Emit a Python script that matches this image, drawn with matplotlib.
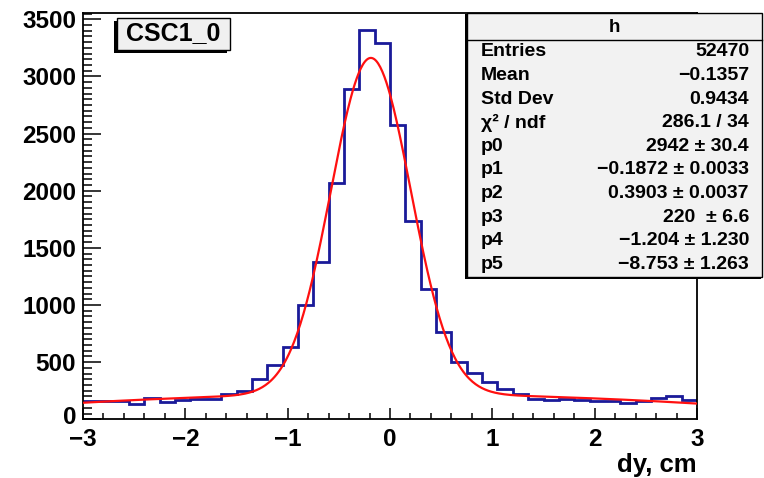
"""
dy residuals for CSC1_0, ROOT-style histogram with fit and stats box.
"""

import numpy as np
import matplotlib
matplotlib.use("Agg")
import matplotlib.pyplot as plt
import matplotlib.transforms as mtransforms
from matplotlib.patches import Rectangle
from matplotlib.ticker import MultipleLocator

plt.rcParams['font.family'] = ['Liberation Sans', 'DejaVu Sans']
plt.rcParams['font.weight'] = 'bold'

# histogram: 40 bins from -3 to 3 cm
xmin, xmax, nbins = -3.0, 3.0, 40
counts = [160, 158, 160, 135, 190, 150, 165, 175, 178, 220,
          245, 352, 478, 633, 1004, 1378, 2064, 2888, 3408, 3291,
          2575, 1737, 1138, 765, 500, 402, 325, 268, 225, 175,
          172, 175, 168, 162, 160, 140, 160, 185, 205, 165]

# fit parameters (gaus + pol2) as printed in the stats box
fit_par = [2942, -0.1872, 0.3903, 220, -1.204, -8.753]

stat_names = ['Entries', 'Mean', 'Std Dev', 'χ² / ndf',
              'p0', 'p1', 'p2', 'p3', 'p4', 'p5']
stat_values = ['52470', '\u22120.1357', '0.9434', '286.1 / 34',
               '2942 ± 30.4', '\u22120.1872 ± 0.0033', '0.3903 ± 0.0037',
               '220  ± 6.6', '\u22121.204 ± 1.230', '\u22128.753 ± 1.263']

x_ticks = [-3, -2, -1, 0, 1, 2, 3]
y_ticks = [0, 500, 1000, 1500, 2000, 2500, 3000, 3500]

W, H = 764, 478


def fx(px):
    return px / W


def fy(py):
    return 1 - py / H


def fitfunc(x, p):
    return (p[0] * np.exp(-0.5 * ((x - p[1]) / p[2]) ** 2)
            + p[3] + p[4] * x + p[5] * x ** 2)


fig = plt.figure(figsize=(W / 100, H / 100), dpi=100)
ax = fig.add_axes([fx(83), fy(419.3), fx(697) - fx(83), fy(13) - fy(419.3)])

edges = np.linspace(xmin, xmax, nbins + 1)
ax.stairs(counts, edges, baseline=None, color='#1a1a99', lw=2.0, zorder=2)

xf = np.linspace(xmin, xmax, 600)
ax.plot(xf, fitfunc(xf, fit_par), color='#ff1010', lw=1.6, zorder=3)

ax.set_xlim(xmin, xmax)
ax.set_ylim(0, 3555)
ax.set_xticks(x_ticks)
ax.set_yticks(y_ticks)
ax.xaxis.set_minor_locator(MultipleLocator(0.2))
ax.yaxis.set_minor_locator(MultipleLocator(50))
ax.tick_params(axis='both', which='both', direction='in', width=1.1,
               labelsize=17.5, top=False, right=False)
ax.tick_params(axis='x', which='major', length=8, pad=6)
ax.tick_params(axis='x', which='minor', length=4)
ax.tick_params(axis='y', which='major', length=13, pad=5)
ax.tick_params(axis='y', which='minor', length=6.5)
for lab in ax.get_xticklabels() + ax.get_yticklabels():
    lab.set_fontweight('bold')
# nudge the y "0" up a little so it clears the x "-3"
ylabs = ax.get_yticklabels()
ylabs[0].set_transform(ylabs[0].get_transform() +
                       mtransforms.ScaledTranslation(0, 3 / 72, fig.dpi_scale_trans))
for s in ax.spines.values():
    s.set_linewidth(1.3)

fig.text(fx(697), fy(472), 'dy, cm', ha='right', va='baseline',
         fontsize=18.5, fontweight='bold')

# title box with shadow
fig.patches.append(Rectangle((fx(114), fy(53)), fx(113), fy(0) - fy(32),
                             transform=fig.transFigure, facecolor='black',
                             edgecolor='none', zorder=5))
fig.patches.append(Rectangle((fx(117), fy(50)), fx(113), fy(0) - fy(32),
                             transform=fig.transFigure, facecolor='#f0f0f0',
                             edgecolor='black', lw=1.0, zorder=6))
fig.text(fx(173.5), fy(33), 'CSC1_0', ha='center', va='center',
         fontsize=18, fontweight='bold', zorder=7)

# stats box
fig.patches.append(Rectangle((fx(465), fy(279)), fx(296), fy(0) - fy(265),
                             transform=fig.transFigure, facecolor='black',
                             edgecolor='none', zorder=5))
fig.patches.append(Rectangle((fx(467), fy(277)), fx(295), fy(0) - fy(264),
                             transform=fig.transFigure, facecolor='#f2f2f2',
                             edgecolor='black', lw=1.0, zorder=6))
fig.lines.append(plt.Line2D([fx(467), fx(762)], [fy(40), fy(40)],
                            transform=fig.transFigure, color='black',
                            lw=1.0, zorder=7))
fig.text(fx(614), fy(27), 'h', ha='center', va='center',
         fontsize=13.5, fontweight='bold', zorder=8)
for i, (name, val) in enumerate(zip(stat_names, stat_values)):
    yy = fy(52 + i * 23.6)
    fig.text(fx(481), yy, name, ha='left', va='center',
             fontsize=14, fontweight='bold', zorder=8)
    fig.text(fx(749), yy, val, ha='right', va='center',
             fontsize=14, fontweight='bold', zorder=8)

fig.savefig('out.png', dpi=100)
